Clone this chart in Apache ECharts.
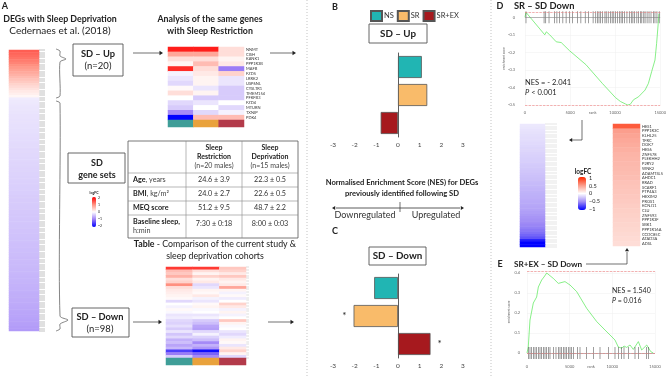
<!DOCTYPE html>
<html>
<head>
<meta charset="utf-8">
<script src="https://cdn.jsdelivr.net/npm/echarts@6/dist/echarts.min.js"></script>
<style>
  html, body { margin: 0; padding: 0; background: #fff; }
  #chart { width: 669px; height: 376px; }
</style>
</head>
<body>
<div id="chart"></div>
<script>
// ---- data ----
const groups = ['NS', 'SR', 'SR+EX'];
const groupColors = ['#21b5b3', '#f9bb6a', '#a6191e'];
const annotColors = ['#3f9e98', '#e9a23c', '#b33a4a'];

// Panel A, Cedernaes SD genes (logFC, sorted)
const upFC = [1.35, 1.3, 1.25, 1.2, 1.14, 1.08, 1.0, 0.92, 0.85, 0.78,
  0.7, 0.62, 0.55, 0.48, 0.4, 0.33, 0.26, 0.2, 0.14, 0.08];
const downFC = [-0.15, -0.17, -0.18, -0.19, -0.2, -0.2, -0.21, -0.22, -0.22, -0.23,
  -0.23, -0.24, -0.24, -0.25, -0.25, -0.26, -0.26, -0.27, -0.27, -0.28,
  -0.28, -0.29, -0.29, -0.3, -0.3, -0.31, -0.31, -0.32, -0.32, -0.33,
  -0.33, -0.34, -0.34, -0.35, -0.35, -0.36, -0.36, -0.37, -0.37, -0.38,
  -0.38, -0.39, -0.39, -0.4, -0.4, -0.41, -0.41, -0.42, -0.42, -0.43,
  -0.43, -0.44, -0.44, -0.45, -0.45, -0.46, -0.46, -0.47, -0.47, -0.48,
  -0.48, -0.49, -0.49, -0.5, -0.5, -0.51, -0.51, -0.52, -0.52, -0.53,
  -0.53, -0.54, -0.55, -0.55, -0.56, -0.57, -0.57, -0.58, -0.59, -0.59,
  -0.6, -0.61, -0.62, -0.62, -0.63, -0.64, -0.65, -0.66, -0.67, -0.68,
  -0.69, -0.7, -0.71, -0.72, -0.73, -0.74, -0.76, -0.78];

// SD-Up genes in the SR study (NS, SR, SR+EX)
const upGenes = ['NNMT', 'CISH', 'KANK1', 'PPP1R3B', 'MAFB', 'FZD5', 'LRRK2', 'USP6NL',
  'CYSLTR1', 'TMEM154', 'PFKFB3', 'FZD4', 'MTURN', 'TXNIP', 'PDK4'];
const upSR = [
  [1.8, 1.8, 0.3], [0.8, 0.8, 0.3], [0.3, 0.3, 0.1], [0.1, 0.6, 0.2], [1.7, 0.3, -1.0],
  [-0.1, 0.2, 0.4], [-0.2, 0.1, -0.2], [-0.3, 0.1, -0.2], [0.05, -0.2, -0.4], [0.3, 0.1, -0.4],
  [0.0, -0.4, -0.4], [-0.3, -0.2, 0.0], [-0.4, 0.0, -0.3], [-0.9, -0.3, -0.1], [-2.0, 0.6, 0.6]
];
// SD-Down genes in the SR study (blocks of rows, NS, SR, SR+EX)
const downSR = [
  [1.6, 1.6, 0.5], [0.6, 0.3, 0.4], [0.5, 0.1, 0.2], [0.7, 0.4, 0.5], [0.3, 0.1, 0.2],
  [0.4, 0.2, 0.1], [1.0, -0.3, 0.2], [0.3, -0.2, 0.8], [0.2, 0.1, 0.1], [0.15, 0.05, -0.1],
  [0.1, 0.2, 0.05], [0.05, -0.1, -0.15], [-0.3, -0.2, 0.0], [0.0, 0.05, 0.4], [-0.1, 0.1, 0.2],
  [0.05, -0.05, -0.1], [-0.05, 0.0, 0.1], [-0.2, -0.2, -0.1], [-0.15, -0.1, 0.0], [-0.3, -0.4, 0.5],
  [-0.35, -0.5, 0.1], [-0.25, -0.7, -0.05], [-0.4, -0.75, 0.0], [-0.2, -0.3, -0.2], [-0.45, -0.1, -0.3],
  [-0.3, -0.35, -0.15], [-0.6, -0.5, 0.1], [-0.5, -0.9, 0.05], [-0.7, -0.6, -0.2], [-0.55, -0.8, 0.2],
  [-1.5, -1.9, 0.4], [-1.0, -1.2, 0.1], [-0.4, -0.9, -0.3]
];

// Panels B and C, NES
const nesUp = [1.1, 1.35, -0.8];
const nesDown = [-1.1, -2.05, 1.5];
const sigDown = ['', '*', '*'];
const nesTicks = [-3, -2, -1, 0, 1, 2, 3];

// Panel D, SR vs SD Down running enrichment score
const esSR = [[0, 0], [110, 0.028], [2190, -0.1], [2370, -0.083], [2740, -0.1], [3470, -0.14],
  [4020, -0.144], [4930, -0.19], [6760, -0.27], [8580, -0.377], [10040, -0.458], [10590, -0.48],
  [11140, -0.494], [11400, -0.5], [11680, -0.496], [12040, -0.47], [12600, -0.453], [13320, -0.415],
  [13690, -0.377], [14050, -0.31], [14420, -0.244], [14600, -0.15], [14780, -0.036], [14860, 0.02]];
const hitsSR = [110, 2115, 2300, 2665, 3285, 3540, 3830, 4200, 4560, 4930, 5290, 5840, 6200, 6680,
  7040, 7555, 7850, 8030, 8210, 8400, 8580, 8870, 9010, 9230, 9490, 9670, 9855, 10040, 10260,
  10480, 10660, 10840, 11060, 11310, 11570, 11790, 11970, 12155, 12410, 12590, 12810, 12960,
  13180, 13320, 13545, 13760, 13980, 14235, 14420, 14640, 14890];
const esMaxSR = 0.028, esMinSR = -0.5;

// leading edge genes
const leSR = [-0.1, -0.11, -0.12, -0.13, -0.14, -0.15, -0.15, -0.16, -0.17, -0.18,
  -0.18, -0.19, -0.2, -0.21, -0.21, -0.22, -0.23, -0.24, -0.25, -0.26,
  -0.27, -0.28, -0.29, -0.3, -0.31, -0.32, -0.33, -0.34, -0.35, -0.36,
  -0.37, -0.38, -0.39, -0.4, -0.42, -0.44, -0.46, -0.48, -0.5, -0.52,
  -0.54, -0.57, -0.6, -0.64, -0.7, -0.9, -1.0, -1.0];
const leEXGenes = ['HES1', 'PPP1R3C', 'KLHL25', 'TFRC', 'DOK7', 'HES6', 'ZNF578', 'PLEKHH2',
  'P2RY2', 'WNK2', 'ADAMTSL5', 'AHDC1', 'RRAD', 'SCARF1', 'PTP4A3', 'HEXIM2', 'PROS1', 'KCNJ11',
  'CLU', 'ZNF593', 'PPP1R3F', 'SBK1', 'PPP1R16A', 'CCDC85C', 'ATAD3A', 'ADSL'];
const leEX = [0.78, 0.48, 0.45, 0.43, 0.41, 0.39, 0.37, 0.36, 0.35, 0.34, 0.33, 0.32, 0.3,
  0.29, 0.28, 0.27, 0.26, 0.25, 0.24, 0.23, 0.22, 0.21, 0.2, 0.19, 0.18, 0.17];

// Panel E, SR+EX vs SD Down
const esEX = [[0, 0], [150, 0.03], [350, 0.165], [740, 0.25], [1130, 0.28], [1330, 0.33],
  [1720, 0.365], [1990, 0.38], [2310, 0.4], [2380, 0.405], [3080, 0.373], [3670, 0.348],
  [4450, 0.357], [5040, 0.34], [5820, 0.307], [7000, 0.223], [8170, 0.157], [9140, 0.115],
  [9730, 0.09], [10310, 0.065], [10700, 0.03], [11100, 0.024], [11370, 0.035], [11680, 0.028],
  [12070, 0.04], [12460, 0.018], [13050, 0.057], [13440, 0.015], [14030, 0.04], [14500, 0.007],
  [14800, 0]];
const hitsEX = [156, 350, 547, 742, 937, 1133, 1328, 1523, 1719, 1914, 2109, 2305, 2500, 2695,
  3086, 3398, 3672, 3867, 4062, 4258, 4453, 4648, 4844, 5039, 5234, 5430, 5898, 6211, 6992,
  7773, 8555, 9531, 10312, 10703, 11094, 11367, 11875, 12656, 13047, 14023, 14219];
const esMaxEX = 0.405, esMinEX = 0;

// table
const tableRows = [
  ['Age', ', years', '24.6 ± 3.9', '22.3 ± 0.5'],
  ['BMI', ', kg/m²', '24.0 ± 2.7', '22.6 ± 0.5'],
  ['MEQ score', '', '51.2 ± 9.5', '48.7 ± 2.2'],
  ['Baseline sleep,', 'h:min', '7:30 ± 0:18', '8:00 ± 0:03']
];

// ---- helpers ----
const FONT = 'Lato';
let chart = echarts.init(document.getElementById('chart'), null, {renderer: 'canvas'});

function txt(x, y, text, size, opts) {
  opts = opts || {};
  return {
    type: 'text', x: x, y: y, silent: true, z: 50,
    style: {
      text: text, fontSize: size, fontFamily: FONT,
      fontWeight: opts.bold ? 'bold' : 'normal',
      fontStyle: opts.italic ? 'italic' : 'normal',
      fill: opts.color || '#222',
      align: opts.align || 'center', verticalAlign: 'middle',
      rich: opts.rich
    }
  };
}
function line(x1, y1, x2, y2, color, w, dash) {
  return {type: 'line', silent: true, z: 40, shape: {x1: x1, y1: y1, x2: x2, y2: y2},
    style: {stroke: color || '#333', lineWidth: w || 0.8, lineDash: dash || null}};
}
function box(x, y, w, h) {
  return {type: 'rect', silent: true, z: 40, shape: {x: x, y: y, width: w, height: h},
    style: {fill: '#fff', stroke: '#555', lineWidth: 0.9}};
}
function head(x, y, dir, s) {
  s = s || 3;
  let p;
  if (dir === 'r') p = [[x, y], [x - s * 1.6, y - s], [x - s * 1.6, y + s]];
  if (dir === 'l') p = [[x, y], [x + s * 1.6, y - s], [x + s * 1.6, y + s]];
  if (dir === 'u') p = [[x, y], [x - s, y + s * 1.6], [x + s, y + s * 1.6]];
  return {type: 'polygon', silent: true, z: 41, shape: {points: p}, style: {fill: '#222'}};
}
function brace(pts) {
  return {type: 'polyline', silent: true, z: 40, shape: {points: pts, smooth: 0.25},
    style: {stroke: '#666', lineWidth: 0.8, fill: null}};
}

// heatmap axes helper
function hmAxes(idx, cols, rows, tick) {
  const x = {gridIndex: idx, type: 'category', data: cols, show: false};
  const y = {gridIndex: idx, type: 'category', data: rows, inverse: true, position: 'right',
    axisLine: {show: false}, axisLabel: {show: false}, splitLine: {show: false},
    axisTick: {show: false}};
  if (tick) {
    y.axisTick = {show: true, interval: 0, length: tick.len,
      lineStyle: {color: tick.color, width: tick.w}};
  }
  return [x, y];
}
const geneLabel = {show: true, interval: 0, hideOverlap: false, fontSize: 4, color: '#333',
  margin: 2, fontFamily: FONT};

const grids = [
  {left: 9, top: 50, width: 30, height: 281},      // 0 A tall column
  {left: 168, top: 47, width: 76, height: 73},     // 1 A SD-up heatmap
  {left: 168, top: 120, width: 76, height: 7},     // 2 annotation
  {left: 166, top: 267, width: 80, height: 91},    // 3 A SD-down heatmap
  {left: 166, top: 358, width: 80, height: 7},     // 4 annotation
  {left: 333, top: 53, width: 130, height: 84},    // 5 B
  {left: 333, top: 274, width: 130, height: 84},   // 6 C
  {left: 525, top: 12, width: 137, height: 93},    // 7 D ES
  {left: 520, top: 124, width: 25, height: 123},   // 8 D leading edge SR
  {left: 613, top: 124, width: 27, height: 122},   // 9 D leading edge SR+EX
  {left: 527, top: 271, width: 128, height: 82}    // 10 E ES
];

const xAxes = [], yAxes = [];
function push(pair) { xAxes.push(pair[0]); yAxes.push(pair[1]); }

const allFC = upFC.concat(downFC);
push(hmAxes(0, ['SD'], allFC.map((v, i) => 'g' + i), {len: 6, color: '#777', w: 0.45}));
let a1 = hmAxes(1, groups, upGenes);
a1[1].axisLabel = geneLabel;
push(a1);
push(hmAxes(2, groups, ['grp']));
push(hmAxes(3, groups, downSR.map((r, i) => 'd' + i), {len: 3, color: '#aaa', w: 0.4}));
push(hmAxes(4, groups, ['grp']));

function nesAxes(idx) {
  xAxes.push({gridIndex: idx, type: 'value', min: nesTicks[0], max: nesTicks[nesTicks.length - 1],
    interval: 1,
    axisLine: {lineStyle: {color: '#444', width: 0.8}},
    axisTick: {inside: true, length: 3, lineStyle: {color: '#444', width: 0.8}},
    axisLabel: {fontSize: 6.5, color: '#444', margin: 4, fontFamily: FONT},
    splitLine: {show: false}});
  yAxes.push({gridIndex: idx, type: 'category', data: groups, inverse: true,
    axisLine: {onZero: true, lineStyle: {color: '#333', width: 0.8}},
    axisTick: {show: false}, axisLabel: {show: false}});
}
nesAxes(5);
nesAxes(6);

function esAxes(idx, min, max, lblMargin, yMargin, nameGapY) {
  xAxes.push({gridIndex: idx, type: 'value', min: 0, max: 15000, interval: 5000,
    name: 'rank', nameLocation: 'middle', nameGap: lblMargin, nameMoveOverlap: false,
    nameTextStyle: {fontSize: 4, color: '#666', fontFamily: FONT, verticalAlign: 'top'},
    axisLine: {show: false}, axisTick: {show: false},
    axisLabel: {fontSize: 4, color: '#666', margin: lblMargin, fontFamily: FONT,
      formatter: v => String(v)},
    splitLine: {lineStyle: {color: '#eeeeee', width: 0.5}}});
  yAxes.push({gridIndex: idx, type: 'value', min: min, max: max, interval: 0.1,
    name: 'enrichment score', nameLocation: 'middle', nameGap: nameGapY, nameMoveOverlap: false,
    nameTextStyle: {fontSize: 3, color: '#666', fontFamily: FONT},
    axisLine: {show: false}, axisTick: {show: false},
    axisLabel: {fontSize: 4, color: '#666', margin: yMargin, showMaxLabel: false, fontFamily: FONT},
    splitLine: {lineStyle: {color: '#eeeeee', width: 0.5}}});
}
esAxes(7, -0.5, 0.03, 6, 10, 19);
push(hmAxes(8, ['SR'], leSR.map((v, i) => 'l' + i), {len: 12, color: '#bbb', w: 0.4}));
let a9 = hmAxes(9, ['SR+EX'], leEXGenes);
a9[1].axisLabel = geneLabel;
push(a9);
esAxes(10, 0, 0.41, 12, 7, 16);

// ---- series ----
const series = [];
series.push({type: 'heatmap', xAxisIndex: 0, yAxisIndex: 0,
  data: allFC.map((v, i) => [0, i, v])});                               // 0
series.push({type: 'heatmap', xAxisIndex: 1, yAxisIndex: 1,
  data: upSR.flatMap((r, i) => r.map((v, j) => [j, i, v]))});           // 1
series.push({type: 'heatmap', xAxisIndex: 2, yAxisIndex: 2,
  data: groups.map((g, j) => ({value: [j, 0, j], itemStyle: {color: annotColors[j]}}))}); // 2
series.push({type: 'heatmap', xAxisIndex: 3, yAxisIndex: 3,
  data: downSR.flatMap((r, i) => r.map((v, j) => [j, i, v]))});         // 3
series.push({type: 'heatmap', xAxisIndex: 4, yAxisIndex: 4,
  data: groups.map((g, j) => ({value: [j, 0, j], itemStyle: {color: annotColors[j]}}))}); // 4

function nesSeries(axis, vals, stack, sig) {
  groups.forEach((g, j) => {
    series.push({
      name: g, type: 'bar', xAxisIndex: axis, yAxisIndex: axis, stack: stack,
      barWidth: 22,
      itemStyle: {color: groupColors[j], borderColor: '#555', borderWidth: 0.8},
      label: {
        show: !!(sig && sig[j]), formatter: () => sig ? sig[j] : '',
        position: vals[j] < 0 ? 'left' : 'right', distance: 7,
        fontSize: 10, color: '#222', fontFamily: FONT
      },
      data: vals.map((v, k) => (k === j ? v : '-'))
    });
  });
}
nesSeries(5, nesUp, 'up', null);        // 5,6,7
nesSeries(6, nesDown, 'down', sigDown); // 8,9,10

function esSeries(axis, es, hits, esMax, esMin) {
  const redDash = {color: '#f08080', type: 'dashed', width: 0.6};
  series.push({type: 'line', xAxisIndex: axis, yAxisIndex: axis, data: es,
    showSymbol: false, lineStyle: {color: '#55e855', width: 0.7}, z: 3,
    markLine: {silent: true, symbol: 'none', label: {show: false},
      data: [
        {yAxis: 0, lineStyle: {color: '#888', type: 'solid', width: 0.6}},
        {yAxis: esMax, lineStyle: redDash},
        {yAxis: esMin, lineStyle: redDash}
      ]}});
  series.push({type: 'scatter', xAxisIndex: axis, yAxisIndex: axis, clip: false,
    symbol: 'rect', symbolSize: [0.6, 12], itemStyle: {color: '#333'},
    data: hits.map(r => [r, 0]), z: 4});
}
esSeries(7, esSR, hitsSR, esMaxSR, esMinSR);                   // 11,12
series.push({type: 'heatmap', xAxisIndex: 8, yAxisIndex: 8,
  data: leSR.map((v, i) => [0, i, v])});                       // 13
series.push({type: 'heatmap', xAxisIndex: 9, yAxisIndex: 9,
  data: leEX.map((v, i) => [0, i, v])});                       // 14
esSeries(10, esEX, hitsEX, esMaxEX, esMinEX);                 // 15,16

// ---- text, boxes and arrows ----
const g = [];
// dividers
g.push(line(307, 0, 307, 376, '#aaa', 0.7, [1, 2]));
g.push(line(491, 0, 491, 376, '#aaa', 0.7, [1, 2]));

// panel A
g.push(txt(5, 6, 'A', 9, {bold: true}));
g.push(txt(60, 19, 'DEGs with Sleep Deprivation', 8.8, {bold: true}));
g.push(txt(60, 31, 'Cedernaes et al. (2018)', 10));
g.push(txt(210, 19, 'Analysis of the same genes', 8.8, {bold: true}));
g.push(txt(210, 31, 'with Sleep Restriction', 8.8, {bold: true}));
g.push(brace([[56, 49], [60, 51], [60, 56], [66, 59], [60, 62], [60, 96], [56, 98]]));
g.push(brace([[56, 101], [60, 103], [60, 316], [68, 320], [60, 324], [60, 329], [56, 331]]));
g.push(box(73, 44, 50, 32));
g.push(txt(98, 54, 'SD – Up', 9.3, {bold: true}));
g.push(txt(98, 66, '(n=20)', 9.5));
g.push(line(133, 53, 160, 53, '#333', 0.7));
g.push(head(163, 53, 'r', 2.2));
g.push(line(270, 53, 293, 53, '#333', 0.7));
g.push(head(296, 53, 'r', 2.2));
g.push(box(68, 153, 57, 30));
g.push(txt(97, 163, 'SD', 9, {bold: true}));
g.push(txt(97, 175, 'gene sets', 9, {bold: true}));
g.push(txt(94, 193, 'logFC', 3.5, {bold: true}));
['2', '1', '0', '−1', '−2'].forEach((t, i) => g.push(txt(98, 198 + i * 7, t, 3.5, {align: 'left'})));
g.push(box(72, 308, 57, 29));
g.push(txt(100, 317, 'SD – Down', 9.3, {bold: true}));
g.push(txt(100, 329, '(n=98)', 9.5));
g.push(line(133, 322, 159, 322, '#333', 0.7));
g.push(head(162, 322, 'r', 2.2));
g.push(line(268, 322, 291, 322, '#333', 0.7));
g.push(head(294, 322, 'r', 2.2));

// table
const tx0 = 128, tx1 = 186, tx2 = 242, tx3 = 298;
const ty = [141, 173, 187, 201, 215, 238];
g.push({type: 'rect', silent: true, z: 40, shape: {x: tx0, y: ty[0], width: tx3 - tx0, height: ty[5] - ty[0]},
  style: {fill: null, stroke: '#555', lineWidth: 0.8}});
ty.slice(1, 5).forEach(y => g.push(line(tx0, y, tx3, y, '#888', 0.6)));
g.push(line(tx1, ty[0], tx1, ty[5], '#888', 0.6));
g.push(line(tx2, ty[0], tx2, ty[5], '#888', 0.6));
g.push(txt(214, 148, 'Sleep', 7, {bold: true}));
g.push(txt(214, 157, 'Restriction', 7, {bold: true}));
g.push(txt(214, 166, '(n=20 males)', 7, {color: '#444'}));
g.push(txt(270, 148, 'Sleep', 7, {bold: true}));
g.push(txt(270, 157, 'Deprivation', 7, {bold: true}));
g.push(txt(270, 166, '(n=15 males)', 7, {color: '#444'}));
const TF = 7.2;
const rich = {b: {fontWeight: 'bold', fontSize: TF, fontFamily: FONT, fill: '#222'},
  n: {fontWeight: 'normal', fontSize: TF, fontFamily: FONT, fill: '#444'}};
tableRows.forEach((r, i) => {
  const yc = (ty[i + 1] + ty[i + 2]) / 2;
  if (i === 3) {
    g.push(txt(133, 222, '{b|' + r[0] + '}', TF, {align: 'left', rich: rich}));
    g.push(txt(133, 231, '{n|' + r[1] + '}', TF, {align: 'left', rich: rich}));
    g.push(txt(214, 224, r[2], TF, {color: '#333'}));
    g.push(txt(270, 224, r[3], TF, {color: '#333'}));
  } else {
    const s = '{b|' + r[0] + '}' + (r[1] ? '{n|' + r[1] + '}' : '');
    g.push(txt(133, yc, s, TF, {align: 'left', rich: rich}));
    g.push(txt(214, yc, r[2], TF, {color: '#333'}));
    g.push(txt(270, yc, r[3], TF, {color: '#333'}));
  }
});
g.push(txt(215, 244, '{b|Table}{n| - Comparison of the current study &}', 8.8,
  {rich: {b: {fontWeight: 'bold', fontSize: 8.8, fontFamily: FONT, fill: '#222'},
          n: {fontSize: 8.8, fontFamily: FONT, fill: '#222'}}}));
g.push(txt(215, 256, 'sleep deprivation cohorts', 8.8));

// panels B and C
g.push(txt(335, 7, 'B', 9, {bold: true}));
g.push(box(369, 24, 58, 19));
g.push(txt(398, 34, 'SD – Up', 9.8, {bold: true}));
g.push(txt(402, 183, 'Normalised Enrichment Score (NES) for DEGs', 7.6, {bold: true}));
g.push(txt(402, 194, 'previously identified following SD', 7.6, {bold: true}));
g.push(line(336, 208, 460, 208, '#333', 0.8));
g.push(head(332, 208, 'l', 2));
g.push(head(464, 208, 'r', 2));
g.push(line(400, 202, 400, 212, '#333', 0.7));
g.push(txt(365, 215.5, 'Downregulated', 9, {color: '#333'}));
g.push(txt(436, 215.5, 'Upregulated', 9, {color: '#333'}));
g.push(txt(335, 231, 'C', 9, {bold: true}));
g.push(box(369, 247, 57, 18));
g.push(txt(397.5, 256, 'SD – Down', 9.8, {bold: true}));

// panel D
g.push(txt(500, 6, 'D', 9, {bold: true}));
g.push(txt(514, 6, 'SR – SD Down', 9.3, {bold: true, align: 'left'}));
g.push(txt(525, 83, 'NES = - 2.041', 7.5, {align: 'left'}));
g.push(txt(525, 93, '{i|P} < 0.001', 7.5,
  {align: 'left', rich: {i: {fontStyle: 'italic', fontSize: 7.5, fontFamily: FONT, fill: '#222'}}}));
g.push({type: 'polyline', silent: true, z: 40, shape: {points: [[582, 120], [582, 140], [572, 140]]},
  style: {stroke: '#333', lineWidth: 0.7, fill: null}});
g.push(head(569, 140, 'l', 2));
g.push(txt(583, 172, 'logFC', 6.5, {bold: true}));
['1', '0.5', '0', '−0.5', '−1'].forEach((t, i) => g.push(txt(589, 178 + i * 7.8, t, 5.5, {align: 'left'})));

// panel E
g.push(txt(500, 264, 'E', 9, {bold: true}));
g.push(txt(514, 264, 'SR+EX – SD Down', 8.2, {bold: true, align: 'left'}));
g.push({type: 'polyline', silent: true, z: 40, shape: {points: [[586, 264], [627, 264], [627, 252]]},
  style: {stroke: '#333', lineWidth: 0.7, fill: null}});
g.push(head(627, 248, 'u', 2));
g.push(txt(612, 291, 'NES = 1.540', 7, {align: 'left'}));
g.push(txt(612, 301, '{i|P} = 0.016', 7,
  {align: 'left', rich: {i: {fontStyle: 'italic', fontSize: 7, fontFamily: FONT, fill: '#222'}}}));

const option = {
  animation: false,
  textStyle: {fontFamily: FONT},
  grid: grids,
  xAxis: xAxes,
  yAxis: yAxes,
  legend: {
    data: groups, left: 365, top: 5, itemWidth: 11, itemHeight: 10, itemGap: 3,
    icon: 'rect', selectedMode: false,
    textStyle: {fontSize: 7.5, color: '#333', fontFamily: FONT, padding: [0, 0, 0, -3]}
  },
  visualMap: [
    {type: 'continuous', min: -2, max: 2, seriesIndex: [0, 1, 3], show: true,
      left: 92, top: 197, itemWidth: 4, itemHeight: 30, padding: 0, calculable: false,
      text: null, textStyle: {fontSize: 1},
      inRange: {color: ['#0000ff', '#9b7df6', '#ffffff', '#ff9080', '#ff0000']}},
    {type: 'continuous', min: -1, max: 1, seriesIndex: [13, 14], show: true,
      left: 578, top: 177, itemWidth: 8, itemHeight: 33, padding: 0, calculable: false,
      text: null, textStyle: {fontSize: 1},
      inRange: {color: ['#0000ff', '#a08cf5', '#ffffff', '#fb9a88', '#ff2a00']}}
  ],
  graphic: {elements: g},
  series: series
};
chart.setOption(option);
</script>
</body>
</html>
